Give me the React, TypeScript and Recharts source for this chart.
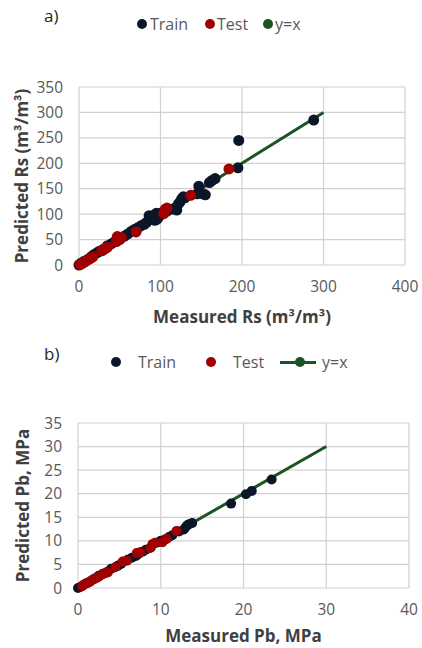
import React from "react";
import {
  CartesianGrid,
  Legend,
  Scatter,
  ScatterChart,
  XAxis,
  YAxis,
} from "recharts";

// ---- panel a) Rs ----
const rsTrain = [
  [0, 0], [2, 3], [4, 4], [6, 7], [8, 8], [12, 12], [15, 16], [18, 20], [22, 24],
  [25, 27], [30, 31], [35, 38], [40, 42], [44, 46], [48, 50], [52, 54], [56, 57],
  [60, 61], [64, 66], [68, 70], [72, 73], [76, 77], [80, 80], [83, 84], [86, 97],
  [88, 90], [90, 93], [92, 98], [93, 88], [95, 102], [96, 90], [98, 95], [100, 100],
  [103, 104], [108, 106], [115, 110], [118, 112], [120, 108], [122, 120], [124, 124],
  [126, 130], [128, 134], [130, 132], [145, 140], [147, 155], [152, 140], [155, 138],
  [160, 162], [163, 166], [167, 170], [195, 191], [196, 245], [288, 285],
];
const rsTest = [
  [1, 1], [3, 2], [5, 4], [7, 6], [9, 8], [11, 11], [13, 12], [15, 14], [17, 16],
  [28, 28], [30, 30], [33, 33], [35, 35], [46, 46], [47, 56], [48, 52], [50, 50],
  [52, 54], [70, 65], [104, 101], [106, 110], [108, 112], [137, 137], [184, 189],
];
const rsLine = [[0, 0], [300, 300]];
const rsXTicks = [0, 100, 200, 300, 400];
const rsYTicks = [0, 50, 100, 150, 200, 250, 300, 350];

// ---- panel b) Pb ----
const pbTrain = [
  [0, 0], [0.3, 0.2], [0.6, 0.6], [1, 1], [1.5, 1.4], [2, 2], [2.5, 2.6], [3, 3],
  [3.5, 3.4], [4, 4.1], [4.8, 4.7], [5.2, 5.1], [6, 6], [6.5, 6.4], [7, 6.8],
  [7.3, 7.2], [7.8, 7.7], [8.2, 8.1], [8.8, 8.6], [9.5, 9.6], [10, 10], [10.5, 10.3],
  [11, 10.8], [11.4, 11.2], [12.2, 12], [12.8, 12.4], [13, 12.9], [13.2, 13.3],
  [13.5, 13.6], [13.8, 13.8], [18.5, 17.9], [20.3, 19.9], [21, 20.6], [23.4, 23],
];
const pbTest = [
  [0.5, 0.4], [0.8, 0.8], [1.1, 1.0], [1.4, 1.3], [1.7, 1.7], [2, 1.9], [2.3, 2.2],
  [2.6, 2.5], [3, 2.9], [3.3, 3.2], [3.6, 3.3], [4.5, 4.4], [5.4, 5.6], [5.9, 5.8],
  [7.1, 7.4], [7.5, 7.6], [8.7, 8.5], [9, 9.3], [9.3, 9.6], [10.2, 9.7], [10.7, 10.4],
  [11.9, 12.1],
];
const pbLine = [[0, 0], [30, 30]];
const pbXTicks = [0, 10, 20, 30, 40];
const pbYTicks = [0, 5, 10, 15, 20, 25, 30, 35];

const TRAIN = "#0b1728";
const TEST = "#a00000";
const LINE = "#1a5424";
const FONT = "'Open Sans', sans-serif";

const toPts = (arr: number[][]) => arr.map(([x, y]) => ({ x, y }));

const dot = (color: string, r: number) => (props: any) => (
  <circle cx={props.cx} cy={props.cy} r={r} fill={color} />
);

const originDot = (props: any) =>
  props.payload && props.payload.x === 0 ? (
    <circle cx={props.cx} cy={props.cy} r={4} fill={LINE} />
  ) : (
    <g />
  );

const legendDot = (c: string) => (
  <span
    style={{
      display: "inline-block",
      width: 10,
      height: 10,
      borderRadius: "50%",
      background: c,
    }}
  />
);

function LegendA() {
  return (
    <div style={{ position: "relative", height: 22, fontFamily: FONT, fontSize: 16, color: "#595959" }}>
      <span style={{ position: "absolute", left: 137, top: 0, display: "flex", alignItems: "center", gap: 3 }}>
        {legendDot(TRAIN)}Train
      </span>
      <span style={{ position: "absolute", left: 205, top: 0, display: "flex", alignItems: "center", gap: 2 }}>
        {legendDot(TEST)}Test
      </span>
      <span style={{ position: "absolute", left: 263, top: 0, display: "flex", alignItems: "center", gap: 2 }}>
        {legendDot(LINE)}y=x
      </span>
    </div>
  );
}

function LegendB() {
  return (
    <div style={{ position: "relative", height: 22, fontFamily: FONT, fontSize: 16, color: "#595959" }}>
      <span style={{ position: "absolute", left: 111, top: 0, display: "flex", alignItems: "center", gap: 17 }}>
        {legendDot(TRAIN)}Train
      </span>
      <span style={{ position: "absolute", left: 206, top: 0, display: "flex", alignItems: "center", gap: 17 }}>
        {legendDot(TEST)}Test
      </span>
      <span style={{ position: "absolute", left: 280, top: 0, display: "flex", alignItems: "center" }}>
        <span style={{ position: "relative", display: "inline-block", width: 36, height: 10 }}>
          <span style={{ position: "absolute", left: 0, top: 3.5, width: 36, height: 3, background: LINE }} />
          <span style={{ position: "absolute", left: 15, top: 0, width: 10, height: 10, borderRadius: "50%", background: LINE }} />
        </span>
        <span style={{ marginLeft: 6 }}>y=x</span>
      </span>
    </div>
  );
}

const tickStyle = { fill: "#595959", fontSize: 15.5, fontFamily: FONT };
const titleStyle = { fill: "#404040", fontSize: 17, fontWeight: 700, fontFamily: FONT };

export default function App() {
  return (
    <div style={{ position: "absolute", left: 0, top: 0, width: 422, height: 648, background: "#fff" }}>
      <div style={{ position: "absolute", left: 44, top: 4, fontFamily: FONT, fontSize: 17, color: "#262626" }}>a)</div>
      <div style={{ position: "absolute", left: 44, top: 342, fontFamily: FONT, fontSize: 17, color: "#262626" }}>b)</div>

      <div style={{ position: "absolute", left: 0, top: 0 }}>
        <ScatterChart width={422} height={330} margin={{ top: 65, right: 17, bottom: 15, left: 13 }}>
          <CartesianGrid stroke="#d0d0d0" strokeWidth={1.2} />
          <XAxis
            type="number"
            dataKey="x"
            domain={[0, 400]}
            ticks={rsXTicks}
            axisLine={false}
            tickLine={false}
            tick={tickStyle}
            tickMargin={10}
            height={50}
            label={{ value: "Measured Rs (m³/m³)", position: "insideBottom", offset: -8, style: titleStyle }}
          />
          <YAxis
            type="number"
            dataKey="y"
            domain={[0, 350]}
            ticks={rsYTicks}
            axisLine={false}
            tickLine={false}
            tick={tickStyle}
            tickMargin={10}
            width={66}
            label={{ value: "Predicted Rs (m³/m³)", angle: -90, position: "insideLeft", offset: 9, textAnchor: "middle", style: titleStyle }}
          />
          <Legend verticalAlign="top" wrapperStyle={{ top: 13, left: 0, width: 422 }} content={() => <LegendA />} />
          <Scatter name="y=x" data={toPts(rsLine)} line={{ stroke: LINE, strokeWidth: 3 }} shape={originDot} isAnimationActive={false} />
          <Scatter name="Train" data={toPts(rsTrain)} shape={dot(TRAIN, 5.5)} isAnimationActive={false} />
          <Scatter name="Test" data={toPts(rsTest)} shape={dot(TEST, 5.5)} isAnimationActive={false} />
        </ScatterChart>
      </div>

      <div style={{ position: "absolute", left: 0, top: 330 }}>
        <ScatterChart width={422} height={318} margin={{ top: 71, right: 13, bottom: 10, left: 12 }}>
          <CartesianGrid stroke="#d0d0d0" strokeWidth={1.2} />
          <XAxis
            type="number"
            dataKey="x"
            domain={[0, 40]}
            ticks={pbXTicks}
            axisLine={false}
            tickLine={false}
            tick={tickStyle}
            tickMargin={10}
            height={50}
            label={{ value: "Measured Pb, MPa", position: "insideBottom", offset: -4, style: titleStyle }}
          />
          <YAxis
            type="number"
            dataKey="y"
            domain={[0, 35]}
            ticks={pbYTicks}
            axisLine={false}
            tickLine={false}
            tick={tickStyle}
            tickMargin={10}
            width={66}
            label={{ value: "Predicted Pb, MPa", angle: -90, position: "insideLeft", offset: 11, textAnchor: "middle", style: titleStyle }}
          />
          <Legend verticalAlign="top" wrapperStyle={{ top: 21, left: 0, width: 422 }} content={() => <LegendB />} />
          <Scatter name="y=x" data={toPts(pbLine)} line={{ stroke: LINE, strokeWidth: 3 }} shape={originDot} isAnimationActive={false} />
          <Scatter name="Train" data={toPts(pbTrain)} shape={dot(TRAIN, 5)} isAnimationActive={false} />
          <Scatter name="Test" data={toPts(pbTest)} shape={dot(TEST, 5)} isAnimationActive={false} />
        </ScatterChart>
      </div>
    </div>
  );
}
